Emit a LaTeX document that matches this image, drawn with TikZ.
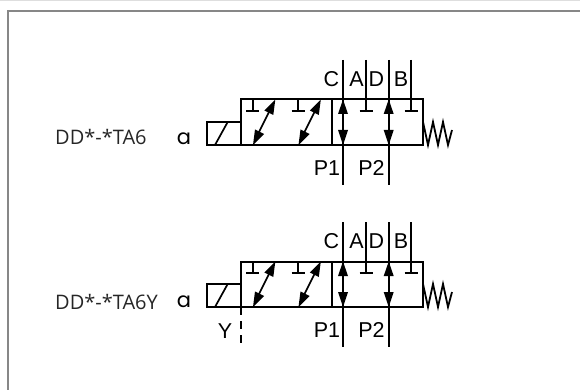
\documentclass[tikz,border=0pt]{standalone}
\usepackage{fontspec}
\setmainfont{Liberation Sans}
\newfontfamily\capfont{Open Sans}
\newfontfamily\afont{Poppins}
\tikzset{
  sym/.style={line width=2pt,black,line cap=butt},
  port/.style={line width=1.8pt,black},
  lab/.style={inner sep=0pt,font=\fontsize{21.5}{22}\selectfont,text=black},
  model/.style={inner sep=0pt,anchor=west,font=\capfont\fontsize{20}{22}\selectfont,text=black!85},
  sola/.style={inner sep=0pt,font=\afont\fontsize{21}{21}\selectfont,text=black},
  head/.style={fill=black,draw=none},
  pics/valve/.style={code={
    % body
    \draw[sym] (207,122) rectangle (241,145);
    \draw[sym] (241,99.5) rectangle (422.7,145);
    \draw[sym] (332,99.5) -- (332,145);
    \draw[sym,line width=1.7pt] (215,145) -- (227.7,122);
    % spring
    \draw[sym,line join=miter,line width=1.8pt] (423,122) -- (428,145) -- (433,122) -- (438,145) -- (443,122) -- (448,145) -- (452,130);
    % blocked T in left
    \foreach \xx in {252.5,298}{
      \draw[sym] (\xx,99.5) -- (\xx,111);
      \draw[sym] (\xx-6.5,111) -- (\xx+6.5,111);
    }
    % diagonal arrows
    \foreach \xx in {253,298.5}{
      \draw[sym,line width=1.7pt] (\xx+4,136) -- (\xx+18,108);
      \fill[head] (\xx+22.3,99.5) -- (\xx+20.3,115) -- (\xx+11.3,110.5) -- cycle;
      \fill[head] (\xx,145) -- (\xx+2,129.5) -- (\xx+11,134) -- cycle;
    }
    % ports
    \foreach \xx in {343,388.7}{
      \draw[port] (\xx,60) -- (\xx,185);
      \fill[head] (\xx,99.5) -- (\xx+5,114) -- (\xx-5,114) -- cycle;
      \fill[head] (\xx,145) -- (\xx+5,130) -- (\xx-5,130) -- cycle;
    }
    \foreach \xx in {366,411}{
      \draw[port] (\xx,60) -- (\xx,111);
      \draw[sym] (\xx-6.5,111) -- (\xx+6.5,111);
    }
    % labels
    \node[lab] (c) at (331.5,79) {C};
    \node[lab] (a) at (356.5,79) {A};
    \node[lab] (d) at (376.5,79) {D};
    \node[lab] (b) at (401,79) {B};
    \node[lab] (p1) at (327,168) {P1};
    \node[lab] (p2) at (371.5,168) {P2};
  }}
}
\begin{document}
\begin{tikzpicture}[x=1pt,y=-1pt]
\useasboundingbox (0,0) rectangle (580,390);
\fill[white] (0,0) rectangle (580,390);
\fill[black!13] (0,0) rectangle (580,1);
\draw[line width=1.7pt,black!47] (580,11) -- (7.7,11) -- (7.7,390);
\pic {valve};
\pic[yshift=-162pt] {valve};
\draw[sym,dash pattern=on 8pt off 6pt,line width=1.7pt] (241,307) -- (241,347);
\node[lab] (y) at (225,331) {Y};
\node[model] (m1) at (55,137) {DD*-*TA6};
\node[model] (m2) at (55,302) {DD*-*TA6Y};
\node[sola] (a1) at (184,139) {a};
\node[sola] (a2) at (184,302) {a};
\end{tikzpicture}
\end{document}
